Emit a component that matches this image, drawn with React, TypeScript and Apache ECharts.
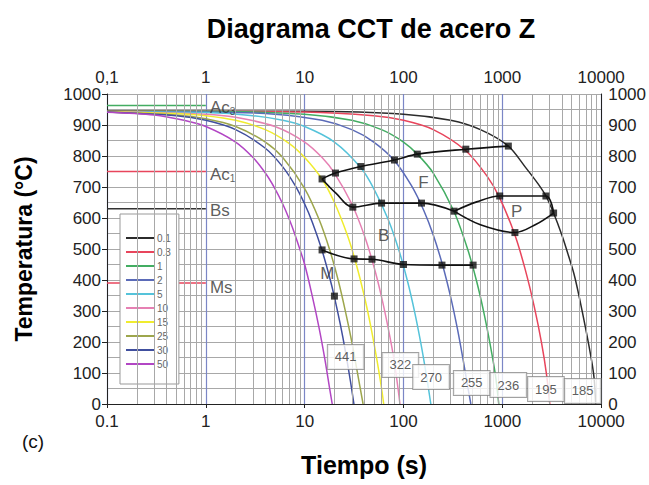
import React, { useEffect, useRef } from 'react';
import * as echarts from 'echarts';

// Cooling rates (°C/s) and their colours
const rateNames = ['0.1', '0.3', '1', '2', '5', '10', '15', '25', '30', '50'];
const rateColors = ['#2b2b2b', '#e8455c', '#43ad62', '#5b6bb8', '#55c3da', '#e680b3', '#f0ec2e', '#9da64c', '#404f9e', '#b246c4'];

// Cooling curves [time s, temperature °C]
const curve01 = [[0.1, 945], [10, 944], [100, 935], [300, 915], [600, 885], [1150, 832], [1700, 765], [2300, 710], [2760, 671], [3300, 616], [4000, 545], [4600, 485], [5300, 420], [6000, 345], [7000, 240], [8000, 140], [8500, 80], [8800, 0]];
const curve03 = [[0.1, 945], [10, 942], [50, 930], [100, 915], [200, 885], [427, 817], [700, 735], [940, 665], [1340, 545], [1700, 435], [2100, 315], [2500, 195], [2800, 95], [3020, 0]];
const curve1 = [[0.1, 944], [1, 944], [10, 935], [30, 915], [60, 885], [100, 845], [138, 806], [200, 745], [325, 620], [450, 495], [550, 395], [650, 295], [750, 195], [850, 95], [920, 0]];
const curve2 = [[0.1, 943], [1, 942], [5, 935], [15, 915], [30, 885], [50, 845], [81, 785], [120, 705], [160, 625], [200, 545], [250, 445], [300, 345], [350, 245], [400, 145], [450, 50], [480, 0]];
const curve5 = [[0.1, 943], [1, 940], [3, 930], [6, 915], [10, 895], [20, 845], [37, 762], [50, 695], [70, 595], [90, 495], [110, 395], [130, 295], [150, 195], [170, 95], [189, 0]];
const curve10 = [[0.1, 943], [1, 935], [2, 925], [5, 895], [10, 845], [15, 795], [20, 745], [30, 645], [40, 545], [50, 445], [60, 345], [70, 245], [80, 145], [88, 50], [92, 0]];
const curve15 = [[0.1, 943], [0.5, 937], [1, 930], [2, 915], [4, 885], [7, 840], [10, 795], [15, 725], [20, 650], [27, 545], [33, 455], [40, 350], [47, 245], [54, 140], [60, 50], [63, 0]];
const curve25 = [[0.1, 942], [0.5, 932], [1, 920], [2, 895], [4, 845], [6, 795], [10, 695], [14, 595], [18, 495], [22, 395], [26, 295], [30, 200], [34, 105], [39, 0]];
const curve30 = [[0.1, 942], [0.5, 930], [1, 915], [2, 885], [4, 825], [6, 765], [8, 705], [10, 645], [12, 585], [15, 495], [18, 405], [20, 345], [23, 255], [26, 165], [29, 75], [31.5, 0]];
const curve50 = [[0.1, 941], [0.3, 932], [0.6, 915], [1, 895], [2, 845], [3, 795], [4, 745], [5, 695], [6, 645], [7, 595], [8, 545], [10, 450], [12, 345], [14, 245], [16, 145], [18, 45], [19, 0]];
const coolingCurves = [curve01, curve03, curve1, curve2, curve5, curve10, curve15, curve25, curve30, curve50];

// Transformation lines
const ferriteStart = [[15, 726], [20.5, 745], [37, 766], [81, 787], [138, 806], [427, 822], [1150, 832]];
const ferriteFinish = [[15, 726], [20.7, 680], [30.7, 635], [60, 648], [152, 648], [325, 622]];
const pearliteUpper = [[325, 622], [550, 652], [940, 671], [2760, 671], [3300, 616]];
const pearliteLower = [[325, 622], [600, 578], [1340, 553], [2200, 580], [3300, 616]];
const bainiteFinish = [[15, 497], [31.6, 468], [48, 467], [100, 450], [245, 448], [506, 448]];
const phaseMarkers = [[15, 726], [20.5, 745], [37, 766], [81, 787], [138, 806], [427, 822], [1150, 832],
  [30.7, 635], [60, 648], [152, 648], [325, 622], [940, 671], [2760, 671], [3300, 616], [1340, 553],
  [15, 497], [31.6, 468], [48, 467], [100, 450], [245, 448], [506, 448], [20, 348]];

// Reference temperatures (short lines from 0.1 s to 1 s)
const refNames = ['Ac3', 'Ac1', 'Bs', 'Ms'];
const refTemps = [963, 750, 630, 390];
const refColors = ['#43ad62', '#e8455c', '#333333', '#e8455c'];
const refLabelText = ['{a|Ac}{s|3}', '{a|Ac}{s|1}', '{a|Bs}', '{a|Ms}'];
const refLabelPos = [[1.05, 958], [1.05, 739], [1.05, 623], [1.05, 377]];

// Phase region labels
const phaseLabels = ['F', 'B', 'P', 'M'];
const phaseLabelPos = [[159, 713], [63, 545], [1400, 620], [17, 422]];

// Hardness values (HV) at the curve ends
const hardness = ['441', '322', '270', '255', '236', '195', '185'];
const hardnessPos = [[26, 152], [93, 126], [190, 87], [490, 68], [1150, 61], [2760, 48], [6500, 42]];

// Axis ticks
const xTicksBottom = ['0.1', '1', '10', '100', '1000', '10000'];
const xTicksTop = ['0,1', '1', '10', '100', '1000', '10000'];
const xMinorGrid = [0.2, 0.3, 0.4, 0.5, 0.6, 0.7, 0.8, 0.9, 2, 3, 4, 5, 6, 7, 8, 9, 20, 30, 40, 50, 60, 70, 80, 90,
  200, 300, 400, 500, 600, 700, 800, 900, 2000, 3000, 4000, 5000, 6000, 7000, 8000, 9000];

const FONT = 'Liberation Sans, Arial, Helvetica, sans-serif';
const GRID = '#a8a8a8';

function tickIdx(v: number) {
  return Math.round(Math.log10(v)) + 1;
}

export default function App() {
  const ref = useRef<HTMLDivElement>(null);
  useEffect(() => {
    const chart = echarts.init(ref.current!, null, { renderer: 'svg' });
    const series: any[] = [];
    series.push({
      type: 'line', name: 'grid', data: [], silent: true, z: 1,
      markLine: {
        silent: true, symbol: ['none', 'none'], label: { show: false },
        lineStyle: { color: GRID, width: 1, type: 'solid' },
        data: xMinorGrid.map((v) => ({ xAxis: v })),
      },
    });
    refTemps.forEach((t, i) => {
      series.push({
        type: 'line', name: refNames[i], data: [[0.1, t], [1, t]], symbol: 'none', z: 3,
        lineStyle: { color: refColors[i], width: 1.5 }, silent: true,
      });
    });
    coolingCurves.forEach((c, i) => {
      series.push({
        type: 'line', name: rateNames[i], data: c, symbol: 'none', smooth: 0.3, z: 4,
        color: rateColors[i], lineStyle: { color: rateColors[i], width: 1.5 },
      });
    });
    [ferriteStart, ferriteFinish, pearliteUpper, pearliteLower, bainiteFinish].forEach((d, i) => {
      series.push({
        type: 'line', name: 'phase' + i, data: d, symbol: 'none', smooth: 0.35, z: 5,
        lineStyle: { color: '#111', width: 1.6 },
      });
    });
    series.push({
      type: 'scatter', name: 'markers', data: phaseMarkers, symbol: 'rect', symbolSize: 7, z: 6,
      itemStyle: { color: '#111' },
    });
    series.push({
      type: 'scatter', name: 'refLabels', z: 7, symbolSize: 0, silent: true,
      data: refLabelPos.map((p, i) => ({ value: p, name: refLabelText[i] })),
      label: {
        show: true, position: 'right', distance: 2, formatter: (p: any) => p.name,
        rich: {
          a: { fontSize: 17, color: '#333', fontFamily: FONT, lineHeight: 18 },
          s: { fontSize: 10, color: '#333', fontFamily: FONT, lineHeight: 9, verticalAlign: 'bottom' },
        },
      },
    });
    series.push({
      type: 'scatter', name: 'phaseLabels', z: 7, symbolSize: 0, silent: true,
      data: phaseLabelPos.map((p, i) => ({ value: p, name: phaseLabels[i] })),
      label: { show: true, position: 'inside', formatter: (p: any) => p.name, fontSize: 17, color: '#333', fontFamily: FONT },
    });
    series.push({
      type: 'scatter', name: 'hardness', z: 8, symbolSize: 0, silent: true,
      data: hardnessPos.map((p, i) => ({ value: p, name: hardness[i] })),
      label: {
        show: true, position: 'inside', formatter: (p: any) => p.name, fontSize: 13, color: '#333', fontFamily: FONT,
        backgroundColor: '#fff', borderColor: '#8a8a8a', borderWidth: 1, padding: [6, 7, 5, 7],
      },
    });

    const axisLine = { show: true, lineStyle: { color: '#222', width: 1 } };
    const yFmt = (v: number) => String(v);
    chart.setOption({
      animation: false,
      backgroundColor: '#fff',
      textStyle: { fontFamily: FONT },
      title: {
        text: 'Diagrama CCT de acero Z', left: 366, top: 10, textAlign: 'center',
        textStyle: { fontSize: 27, fontWeight: 'bold', color: '#000', fontFamily: FONT },
      },
      legend: {
        data: rateNames, orient: 'vertical', left: 120, top: 214, icon: 'rect', itemWidth: 28, itemHeight: 2,
        itemGap: 2, selectedMode: false,
        textStyle: { fontSize: 10, color: '#666', lineHeight: 12, fontFamily: FONT, padding: [0, 0, 0, -2] },
        backgroundColor: '#fff', borderColor: '#999', borderWidth: 1, padding: [18, 8, 14, 6],
      },
      grid: { left: 107, right: 46, top: 94, bottom: 81, containLabel: false },
      xAxis: [
        {
          type: 'log', logBase: 10, min: 0.1, max: 10000, position: 'bottom',
          name: 'Tiempo (s)', nameLocation: 'middle', nameGap: 48,
          nameTextStyle: { fontSize: 25, fontWeight: 'bold', color: '#000', fontFamily: FONT, padding: [0, 0, 0, 20] },
          axisLine, axisTick: { show: true, inside: false, length: 4, lineStyle: { color: '#222' } },
          axisLabel: { formatter: (v: number) => xTicksBottom[tickIdx(v)], fontSize: 17, color: '#222', margin: 9, fontFamily: FONT },
          splitLine: { show: true, lineStyle: { color: '#7b86c6', width: 1.2 } },
        },
        {
          type: 'log', logBase: 10, min: 0.1, max: 10000, position: 'top',
          axisLine, axisTick: { show: false },
          axisLabel: { formatter: (v: number) => xTicksTop[tickIdx(v)], fontSize: 17, color: '#222', margin: 8, fontFamily: FONT },
          splitLine: { show: false },
        },
      ],
      yAxis: [
        {
          type: 'value', min: 0, max: 1000, interval: 100, position: 'left',
          name: 'Temperatura (°C)', nameLocation: 'middle', nameGap: 72,
          nameTextStyle: { fontSize: 23, fontWeight: 'bold', color: '#000', fontFamily: FONT },
          axisLine, axisTick: { show: true, length: 5, lineStyle: { color: '#222' } },
          axisLabel: { formatter: yFmt, fontSize: 17, color: '#222', margin: 6, fontFamily: FONT },
          splitLine: { show: true, lineStyle: { color: GRID, width: 1 } },
          minorTick: { show: false, splitNumber: 2 },
          minorSplitLine: { show: true, lineStyle: { color: GRID, width: 1 } },
        },
        {
          type: 'value', min: 0, max: 1000, interval: 100, position: 'right',
          axisLine, axisTick: { show: false },
          axisLabel: { formatter: yFmt, fontSize: 17, color: '#222', margin: 7, fontFamily: FONT },
          splitLine: { show: false },
        },
      ],
      graphic: [
        { type: 'text', left: 22, top: 432, style: { text: '(c)', fontSize: 19, fill: '#111', fontFamily: FONT } },
      ],
      series,
    });
    return () => chart.dispose();
  }, []);
  return <div ref={ref} style={{ position: 'fixed', left: 0, top: 0, width: 649, height: 485, background: '#fff' }} />;
}
